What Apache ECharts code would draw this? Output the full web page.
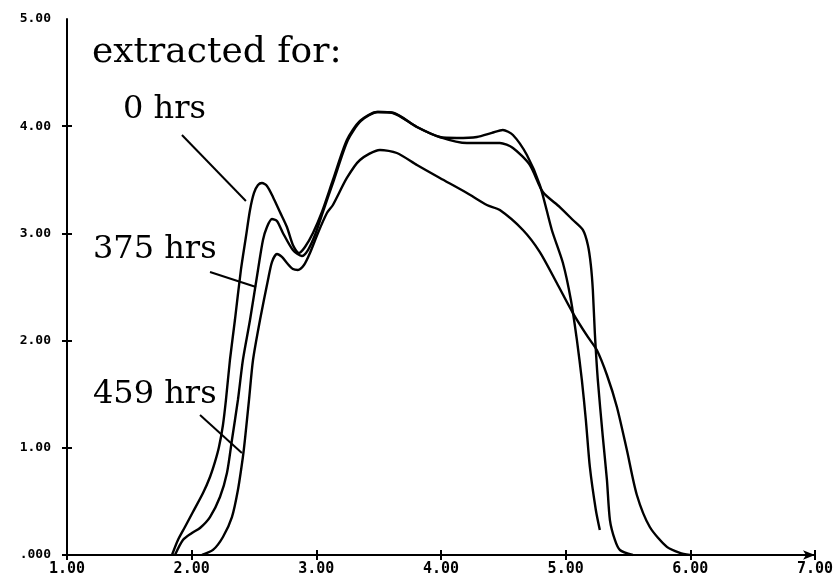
<!DOCTYPE html>
<html>
<head>
<meta charset="utf-8">
<script src="https://cdn.jsdelivr.net/npm/echarts@6/dist/echarts.min.js"></script>
<style>
html,body{margin:0;padding:0;background:#fff;}
#chart{width:839px;height:583px;}
</style>
</head>
<body>
<div id="chart"></div>
<script>
// ---- data ----
const xTickLabels = ['1.00','2.00','3.00','4.00','5.00','6.00','7.00'];
const yTickLabels = ['.000','1.00','2.00','3.00','4.00','5.00'];

const curve0hrs = [
  [1.842,0],[1.890,0.140],[1.946,0.261],[2.010,0.401],[2.091,0.578],[2.147,0.728],
  [2.187,0.868],[2.219,1.007],[2.251,1.213],[2.275,1.446],[2.307,1.819],[2.347,2.192],
  [2.395,2.659],[2.435,2.966],[2.468,3.218],[2.500,3.377],[2.532,3.451],[2.564,3.470],
  [2.604,3.442],[2.652,3.340],[2.708,3.200],[2.764,3.060],[2.812,2.892],[2.860,2.817],
  [2.909,2.873],[2.973,3.004],[3.045,3.200],[3.133,3.498],[3.245,3.871],[3.350,4.049],
  [3.486,4.132],[3.614,4.123],[3.807,3.993],[3.991,3.899],[4.128,3.890],[4.288,3.899],
  [4.408,3.937],[4.496,3.965],[4.577,3.918],[4.689,3.731],[4.793,3.451],[4.889,3.032],
  [4.978,2.724],[5.042,2.379],[5.090,2.006],[5.130,1.632],[5.162,1.259],[5.194,0.821],
  [5.242,0.420],[5.274,0.233]
];
const curve375hrs = [
  [1.866,0],[1.930,0.140],[2.002,0.205],[2.067,0.252],[2.147,0.354],[2.227,0.541],
  [2.283,0.765],[2.323,1.073],[2.371,1.446],[2.411,1.819],[2.468,2.192],[2.532,2.659],
  [2.572,2.938],[2.604,3.060],[2.644,3.134],[2.684,3.116],[2.732,3.004],[2.812,2.845],
  [2.884,2.789],[2.933,2.845],[2.989,2.985],[3.053,3.200],[3.141,3.498],[3.253,3.871],
  [3.358,4.049],[3.494,4.132],[3.622,4.123],[3.807,3.993],[3.991,3.899],[4.208,3.843],
  [4.472,3.843],[4.577,3.797],[4.713,3.638],[4.817,3.386],[4.953,3.246],[5.058,3.125],
  [5.138,3.032],[5.178,2.892],[5.202,2.705],[5.218,2.472],[5.234,2.071],[5.258,1.632],
  [5.298,1.101],[5.331,0.700],[5.355,0.326],[5.395,0.140],[5.435,0.047],[5.539,0]
];
const curve459hrs = [
  [2.083,0],[2.171,0.047],[2.251,0.168],[2.323,0.354],[2.371,0.606],[2.411,0.914],
  [2.427,1.073],[2.460,1.446],[2.492,1.819],[2.548,2.192],[2.612,2.565],[2.644,2.733],
  [2.684,2.808],[2.724,2.780],[2.764,2.724],[2.812,2.668],[2.852,2.659],[2.901,2.705],
  [2.949,2.817],[3.013,3.004],[3.085,3.190],[3.133,3.265],[3.245,3.517],[3.350,3.685],
  [3.510,3.778],[3.646,3.750],[3.807,3.638],[3.991,3.517],[4.208,3.377],[4.368,3.265],
  [4.472,3.218],[4.657,3.032],[4.793,2.826],[4.929,2.537],[5.058,2.257],[5.178,2.034],
  [5.250,1.912],[5.331,1.679],[5.411,1.381],[5.491,0.979],[5.571,0.560],[5.675,0.261],
  [5.812,0.075],[5.916,0.019],[5.996,0]
];
// annotation pointer lines (data coordinates)
const pointers = [
  [[1.922,3.918],[2.435,3.302]],
  [[2.147,2.640],[2.516,2.500]],
  [[2.067,1.306],[2.403,0.951]]
];
const annotations = ['extracted for:', '0 hrs', '375 hrs', '459 hrs'];
const yTickValues = [0,1,2,3,4];

// ---- chart ----
const chart = echarts.init(document.getElementById('chart'), null, {renderer:'canvas'});
const black = '#000';
const tickFont = {fontFamily:'DejaVu Sans Mono', fontWeight:'bold', color:black};

function lineSeries(name, data, extra){
  return Object.assign({
    name: name, type:'line', data: data, showSymbol:false, symbol:'none',
    smooth:0.25, xAxisIndex:0, yAxisIndex:0, silent:true,
    lineStyle:{color:black, width:2.4}
  }, extra || {});
}

const option = {
  backgroundColor:'#fff',
  animation:false,
  grid:{left:67, right:24, top:19, bottom:28, containLabel:false, outerBoundsMode:'none'},
  xAxis:[
    {type:'value', position:'bottom', min:1, max:7, interval:1,
     axisLine:{show:true, onZero:false, lineStyle:{color:black, width:2}, symbol:['none','arrow'], symbolSize:[7,12]},
     axisTick:{show:true, inside:false, length:5, lineStyle:{color:black, width:2}},
     axisLabel:Object.assign({fontSize:15, margin:7, formatter:v => xTickLabels[Math.round(v-1)]}, tickFont),
     splitLine:{show:false}},
    {type:'value', position:'bottom', min:1, max:7, interval:1,
     axisLine:{show:false}, axisLabel:{show:false}, splitLine:{show:false},
     axisTick:{show:true, inside:true, length:5, lineStyle:{color:black, width:2}}}
  ],
  yAxis:[
    {type:'value', position:'left', min:0, max:5, interval:1,
     axisLine:{show:true, onZero:false, lineStyle:{color:black, width:2}},
     axisTick:{show:true, inside:false, length:5, customValues:yTickValues, lineStyle:{color:black, width:2}},
     axisLabel:Object.assign({fontSize:13, margin:16, formatter:v => yTickLabels[Math.round(v)]}, tickFont),
     splitLine:{show:false}},
    {type:'value', position:'left', min:0, max:5, interval:1,
     axisLine:{show:false}, axisLabel:{show:false}, splitLine:{show:false},
     axisTick:{show:true, inside:true, length:5, customValues:yTickValues, lineStyle:{color:black, width:2}}}
  ],
  series:[
    lineSeries('0 hrs', curve0hrs, {
      markLine:{
        symbol:'none', silent:true, animation:false,
        label:{show:false},
        lineStyle:{color:black, width:2, type:'solid'},
        emphasis:{disabled:true},
        data: pointers.map(p => [{coord:p[0]},{coord:p[1]}])
      }
    }),
    lineSeries('375 hrs', curve375hrs),
    lineSeries('459 hrs', curve459hrs)
  ],
  graphic:[
    {type:'text', left:92, top:35, style:{text:annotations[0], font:'36px "DejaVu Serif"', fill:black}},
    {type:'text', left:123, top:94, style:{text:annotations[1], font:'32px "DejaVu Serif"', fill:black}},
    {type:'text', left:93, top:234, style:{text:annotations[2], font:'32px "DejaVu Serif"', fill:black}},
    {type:'text', left:93, top:379, style:{text:annotations[3], font:'32px "DejaVu Serif"', fill:black}}
  ]
};
chart.setOption(option);
</script>
</body>
</html>
